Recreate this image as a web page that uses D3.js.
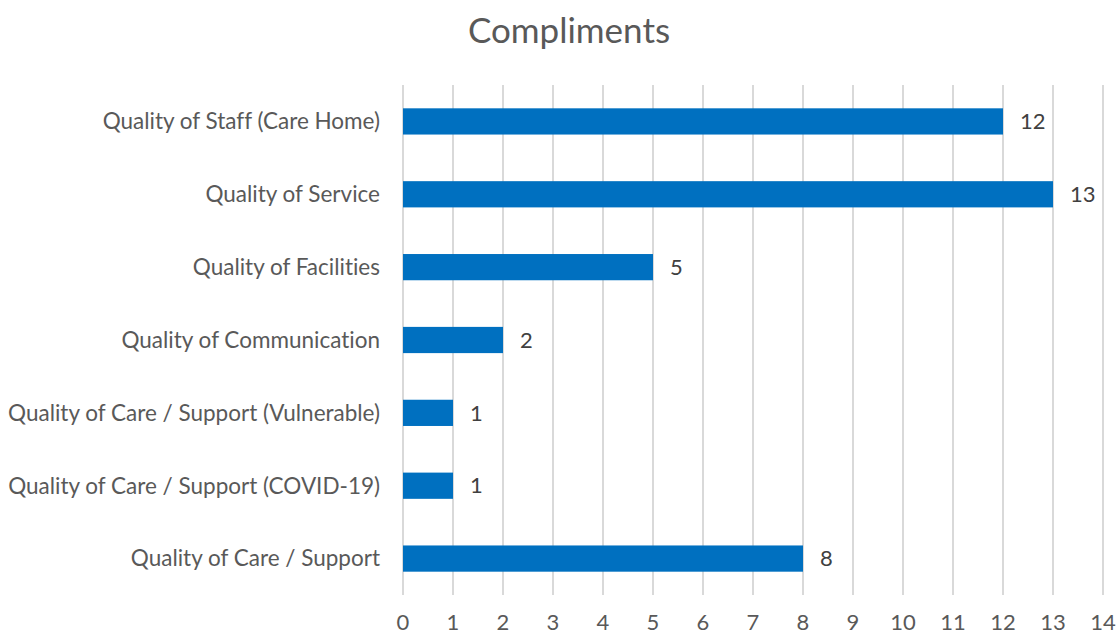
<!DOCTYPE html>
<html>
<head>
    <meta charset="utf-8">
    <title>Compliments</title>
    <script src="https://d3js.org/d3.v7.min.js"></script>
    <style>
        body { margin: 0; background: #fff; }
        text { font-family: Lato, "Open Sans", sans-serif; font-variant-ligatures: none; }
    </style>
</head>
<body>
    <div id="chart"></div>

    <script>
        // Data
        var categories = [
            "Quality of Staff (Care Home)",
            "Quality of Service",
            "Quality of Facilities",
            "Quality of Communication",
            "Quality of Care / Support (Vulnerable)",
            "Quality of Care / Support (COVID-19)",
            "Quality of Care / Support"
        ];
        var values = [12, 13, 5, 2, 1, 1, 8];
        var tickValues = [0, 1, 2, 3, 4, 5, 6, 7, 8, 9, 10, 11, 12, 13, 14];

        var width = 1119;
        var height = 636;
        var margin = { top: 85, right: 15, bottom: 41, left: 403 };

        var svg = d3.select("#chart")
            .append("svg")
            .attr("width", width)
            .attr("height", height);

        // Title
        svg.append("text")
            .attr("x", 569)
            .attr("y", 43)
            .attr("text-anchor", "middle")
            .attr("fill", "#595959")
            .style("font-size", "35px")
            .text("Compliments");

        var x = d3.scaleLinear()
            .domain([0, 14])
            .range([margin.left, 1103]);

        var y = d3.scaleBand()
            .domain(categories)
            .range([margin.top, height - margin.bottom])
            .paddingInner(0.64)
            .paddingOuter(0.32);

        // Gridlines
        svg.append("g")
            .selectAll("line")
            .data(tickValues)
            .enter()
            .append("line")
            .attr("x1", function(d) { return x(d); })
            .attr("x2", function(d) { return x(d); })
            .attr("y1", margin.top)
            .attr("y2", height - margin.bottom)
            .attr("stroke", "#d9d9d9")
            .attr("stroke-width", 2);

        // Bottom tick labels
        svg.append("g")
            .selectAll("text")
            .data(tickValues)
            .enter()
            .append("text")
            .attr("x", function(d) { return x(d); })
            .attr("y", 630)
            .attr("text-anchor", "middle")
            .attr("fill", "#595959")
            .style("font-size", "22px")
            .text(function(d) { return d; });

        // Category labels
        svg.append("g")
            .selectAll("text")
            .data(categories)
            .enter()
            .append("text")
            .attr("x", 380)
            .attr("y", function(d) { return y(d) + y.bandwidth() / 2; })
            .attr("dy", "0.35em")
            .attr("text-anchor", "end")
            .attr("fill", "#595959")
            .style("font-size", "22.5px")
            .text(function(d) { return d; });

        // Bars
        svg.append("g")
            .selectAll("rect")
            .data(values)
            .enter()
            .append("rect")
            .attr("x", x(0))
            .attr("y", function(d, i) { return y(categories[i]); })
            .attr("width", function(d) { return x(d) - x(0); })
            .attr("height", y.bandwidth())
            .attr("fill", "#0070c0");

        // Value labels
        svg.append("g")
            .selectAll("text")
            .data(values)
            .enter()
            .append("text")
            .attr("x", function(d) { return x(d) + 17; })
            .attr("y", function(d, i) { return y(categories[i]) + y.bandwidth() / 2; })
            .attr("dy", "0.35em")
            .attr("fill", "#404040")
            .style("font-size", "22px")
            .text(function(d) { return d; });
    </script>
</body>
</html>
